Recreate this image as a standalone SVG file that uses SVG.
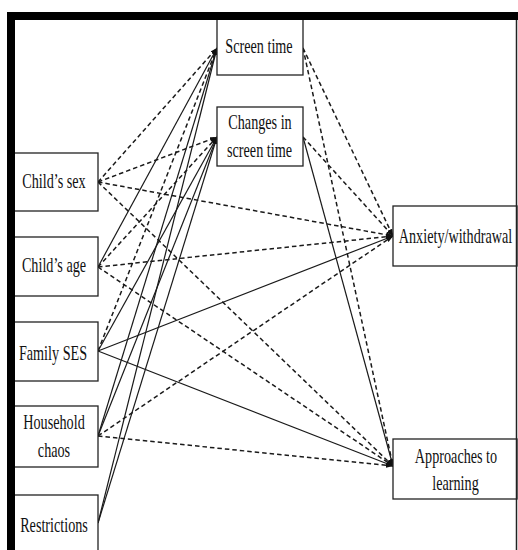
<svg xmlns="http://www.w3.org/2000/svg" width="518" height="550" viewBox="0 0 518 550">
  <defs>
    <marker id="head" markerUnits="userSpaceOnUse" markerWidth="8" markerHeight="6" refX="7" refY="2.5" orient="auto">
      <path d="M0,0 L7,2.5 L0,5 Z" fill="#111"/>
    </marker>
    <style>
      .box { fill: #fff; stroke: #222; stroke-width: 1.3; }
      .lbl { font-family: "Liberation Serif", "Times New Roman", serif; font-size: 22px; fill: #111; text-anchor: middle; }
      .solid { stroke: #1a1a1a; stroke-width: 1.2; fill: none; marker-end: url(#head); }
      .dash { stroke: #1a1a1a; stroke-width: 1.5; stroke-dasharray: 4.5 3; fill: none; marker-end: url(#head); }
      .frame { fill: #000; }
    </style>
  </defs>

  <rect width="518" height="550" fill="#fff"/>

  <!-- connectors -->
  <g id="connectors">
    <!-- Child's sex -->
    <line class="dash" x1="98" y1="182" x2="217" y2="48"/>
    <line class="dash" x1="98" y1="182" x2="217" y2="137"/>
    <line class="dash" x1="98" y1="182" x2="393" y2="236"/>
    <line class="dash" x1="98" y1="182" x2="393" y2="466"/>
    <!-- Child's age -->
    <line class="solid" x1="98" y1="267" x2="217" y2="48"/>
    <line class="dash" x1="98" y1="267" x2="217" y2="137"/>
    <line class="dash" x1="98" y1="267" x2="393" y2="236"/>
    <line class="dash" x1="98" y1="267" x2="393" y2="466"/>
    <!-- Family SES -->
    <line class="dash" x1="98" y1="351" x2="217" y2="48"/>
    <line class="solid" x1="98" y1="351" x2="217" y2="137"/>
    <line class="solid" x1="98" y1="351" x2="393" y2="236"/>
    <line class="solid" x1="98" y1="351" x2="393" y2="466"/>
    <!-- Household chaos -->
    <line class="solid" x1="98" y1="436" x2="217" y2="48"/>
    <line class="solid" x1="98" y1="436" x2="217" y2="137"/>
    <line class="dash" x1="98" y1="436" x2="393" y2="236"/>
    <line class="dash" x1="98" y1="436" x2="393" y2="466"/>
    <!-- Restrictions -->
    <line class="solid" x1="98" y1="523" x2="217" y2="48"/>
    <line class="solid" x1="98" y1="523" x2="217" y2="137"/>
    <!-- Screen time -->
    <line class="dash" x1="303" y1="48" x2="393" y2="236"/>
    <line class="dash" x1="303" y1="48" x2="393" y2="466"/>
    <!-- Changes in screen time -->
    <line class="dash" x1="303" y1="137" x2="393" y2="236"/>
    <line class="solid" x1="303" y1="137" x2="393" y2="466"/>
  </g>

  <!-- nodes (labels set in a narrowed serif) -->
  <g id="screen-time">
    <rect class="box" x="217" y="17" width="86" height="58"/>
    <text class="lbl" transform="translate(259,53) scale(0.645,1)">Screen time</text>
  </g>
  <g id="changes-in-screen-time">
    <rect class="box" x="217" y="107" width="86" height="59"/>
    <text class="lbl" transform="translate(260,129) scale(0.645,1)">Changes in</text>
    <text class="lbl" transform="translate(259.5,157) scale(0.645,1)">screen time</text>
  </g>
  <g id="childs-sex">
    <rect class="box" x="10" y="153" width="88" height="58"/>
    <text class="lbl" transform="translate(54,188) scale(0.645,1)">Child’s sex</text>
  </g>
  <g id="childs-age">
    <rect class="box" x="10" y="237" width="88" height="59"/>
    <text class="lbl" transform="translate(54,272) scale(0.645,1)">Child’s age</text>
  </g>
  <g id="family-ses">
    <rect class="box" x="10" y="322" width="88" height="59"/>
    <text class="lbl" transform="translate(53,360) scale(0.645,1)">Family SES</text>
  </g>
  <g id="household-chaos">
    <rect class="box" x="10" y="406" width="88" height="61"/>
    <text class="lbl" transform="translate(54,429) scale(0.645,1)">Household</text>
    <text class="lbl" transform="translate(54,457) scale(0.645,1)">chaos</text>
  </g>
  <g id="restrictions">
    <rect class="box" x="10" y="495" width="88" height="62"/>
    <text class="lbl" transform="translate(54,532) scale(0.645,1)">Restrictions</text>
  </g>
  <g id="anxiety-withdrawal">
    <rect class="box" x="393" y="206" width="124" height="60"/>
    <text class="lbl" transform="translate(455.5,243) scale(0.645,1)">Anxiety/withdrawal</text>
  </g>
  <g id="approaches-to-learning">
    <rect class="box" x="393" y="439" width="124" height="60"/>
    <text class="lbl" transform="translate(456,463) scale(0.645,1)">Approaches to</text>
    <text class="lbl" transform="translate(455.5,490) scale(0.645,1)">learning</text>
  </g>

  <!-- outer frame -->
  <g id="frame">
    <rect class="frame" x="7" y="12" width="511" height="8"/>
    <rect class="frame" x="7" y="12" width="8" height="538"/>
    <line x1="516.5" y1="20" x2="516.5" y2="550" stroke="#222" stroke-width="1.5"/>
  </g>
</svg>
